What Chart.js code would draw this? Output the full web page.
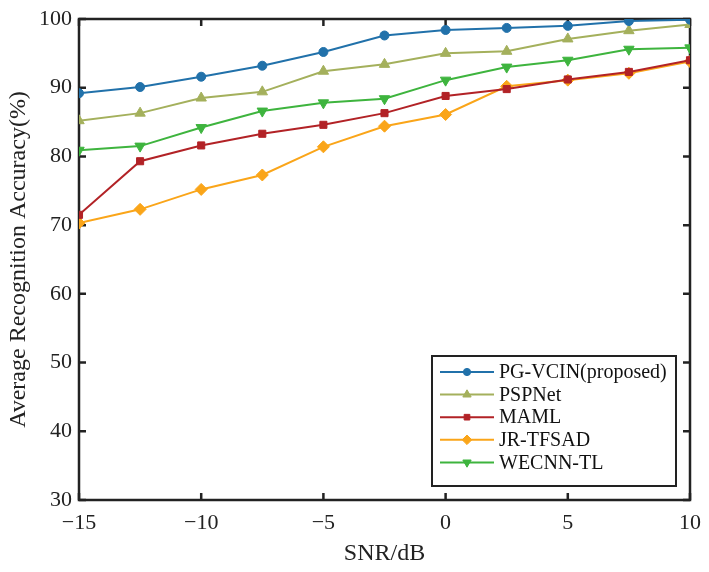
<!DOCTYPE html>
<html>
<head>
<meta charset="utf-8">
<script src="https://cdn.jsdelivr.net/npm/chart.js@4.4.0/dist/chart.umd.min.js"></script>
<style>
  html, body { margin: 0; padding: 0; background: #fff; }
  #wrap { width: 709px; height: 572px; }
</style>
</head>
<body>
<div id="wrap"><canvas id="chart" width="709" height="572"></canvas></div>
<script>
const snr = [-15, -12.5, -10, -7.5, -5, -2.5, 0, 2.5, 5, 7.5, 10];
const pgvcin = [89.2, 90.1, 91.6, 93.2, 95.2, 97.6, 98.4, 98.7, 99.0, 99.7, 99.9];
const pspnet = [85.2, 86.3, 88.5, 89.4, 92.4, 93.4, 95.0, 95.3, 97.1, 98.3, 99.2];
const maml = [71.5, 79.3, 81.6, 83.3, 84.6, 86.3, 88.8, 89.8, 91.2, 92.3, 94.0];
const jrtfsad = [70.3, 72.3, 75.2, 77.3, 81.4, 84.4, 86.1, 90.2, 91.1, 92.1, 93.8];
const wecnn = [80.9, 81.5, 84.2, 86.6, 87.8, 88.4, 91.1, 93.0, 94.0, 95.6, 95.8];
const xTicks = [-15, -10, -5, 0, 5, 10];
const yTicks = [30, 40, 50, 60, 70, 80, 90, 100];

const FONT = '"Liberation Serif", "DejaVu Serif", serif';

function toPoints(vals) {
    return snr.map((x, i) => ({x: x, y: vals[i]}));
}

function series(label, vals, color, style, rot, radius) {
    return {
        label: label,
        data: toPoints(vals),
        borderColor: color,
        backgroundColor: color,
        borderWidth: 2,
        pointStyle: style,
        pointRotation: rot,
        pointRadius: radius,
        pointBorderWidth: 1,
        tension: 0
    };
}

const datasets = [
    series('PG-VCIN(proposed)', pgvcin, 'rgb(33,113,170)', 'circle', 0, 4.5),
    series('PSPNet', pspnet, 'rgb(164,176,92)', 'triangle', 0, 6),
    series('MAML', maml, 'rgb(178,34,38)', 'rect', 0, 5),
    series('JR-TFSAD', jrtfsad, 'rgb(250,165,25)', 'rectRot', 0, 6),
    series('WECNN-TL', wecnn, 'rgb(62,180,62)', 'triangle', 180, 6)
];

// box around the plot with inward ticks (drawn under the lines)
const frame = {
    id: 'frame',
    beforeDatasetsDraw(chart) {
        const ctx = chart.ctx;
        const a = chart.chartArea;
        const xs = chart.scales.x, ys = chart.scales.y;
        ctx.save();
        ctx.strokeStyle = '#222';
        ctx.lineWidth = 2.5;
        ctx.strokeRect(a.left, a.top, a.right - a.left, a.bottom - a.top);
        const t = 7;
        ctx.beginPath();
        xTicks.forEach(v => {
            const px = xs.getPixelForValue(v);
            ctx.moveTo(px, a.bottom); ctx.lineTo(px, a.bottom - t);
            ctx.moveTo(px, a.top); ctx.lineTo(px, a.top + t);
        });
        yTicks.forEach(v => {
            const py = ys.getPixelForValue(v);
            ctx.moveTo(a.left, py); ctx.lineTo(a.left + t, py);
            ctx.moveTo(a.right, py); ctx.lineTo(a.right - t, py);
        });
        ctx.stroke();
        ctx.restore();
    },
    // legend box in the lower right corner
    afterDraw(chart) {
        const ctx = chart.ctx;
        const lx = 432, ly = 356, lw = 244, lh = 130;
        ctx.save();
        ctx.fillStyle = '#fff';
        ctx.fillRect(lx, ly, lw, lh);
        ctx.lineWidth = 2;
        ctx.strokeStyle = '#222';
        ctx.strokeRect(lx, ly, lw, lh);
        ctx.font = '20px ' + FONT;
        ctx.textBaseline = 'middle';
        chart.data.datasets.forEach((ds, i) => {
            const y = ly + 16 + i * 22.6;
            ctx.strokeStyle = ds.borderColor;
            ctx.fillStyle = ds.borderColor;
            ctx.lineWidth = 2;
            ctx.beginPath();
            ctx.moveTo(lx + 8, y); ctx.lineTo(lx + 62, y);
            ctx.stroke();
            ctx.lineWidth = 1;
            Chart.helpers.drawPoint(ctx, {
                pointStyle: ds.pointStyle,
                rotation: ds.pointRotation,
                radius: ds.pointRadius * 0.8,
                borderWidth: 1
            }, lx + 35, y);
            ctx.fillStyle = '#111';
            ctx.fillText(ds.label, lx + 67, y + 1);
        });
        ctx.restore();
    }
};

new Chart(document.getElementById('chart'), {
    type: 'line',
    data: {datasets: datasets},
    options: {
        responsive: false,
        animation: false,
        layout: {padding: {top: 19, right: 19, left: 0, bottom: 0}},
        plugins: {legend: {display: false}, tooltip: {enabled: false}},
        scales: {
            x: {
                type: 'linear',
                min: -15, max: 10,
                afterBuildTicks: s => { s.ticks = xTicks.map(v => ({value: v})); },
                afterFit: s => { s.height = 72; s.paddingLeft = 0; s.paddingRight = 0; },
                grid: {display: false, drawTicks: false},
                border: {display: false},
                ticks: {
                    color: '#222', padding: 10,
                    font: {family: FONT, size: 22},
                    callback: v => v < 0 ? '\u2212' + Math.abs(v) : String(v)
                },
                title: {
                    display: true, text: 'SNR/dB', color: '#222',
                    font: {family: FONT, size: 24}, padding: {top: 0, bottom: 4}
                }
            },
            y: {
                min: 30, max: 100,
                afterBuildTicks: s => { s.ticks = yTicks.map(v => ({value: v})); },
                afterFit: s => { s.width = 79; s.paddingTop = 0; s.paddingBottom = 0; },
                grid: {display: false, drawTicks: false},
                border: {display: false},
                ticks: {color: '#222', padding: 7, font: {family: FONT, size: 22}},
                title: {
                    display: true, text: 'Average Recognition Accuracy(%)', color: '#222',
                    font: {family: FONT, size: 24}, padding: {top: 4, bottom: 0}
                }
            }
        }
    },
    plugins: [frame]
});
</script>
</body>
</html>
